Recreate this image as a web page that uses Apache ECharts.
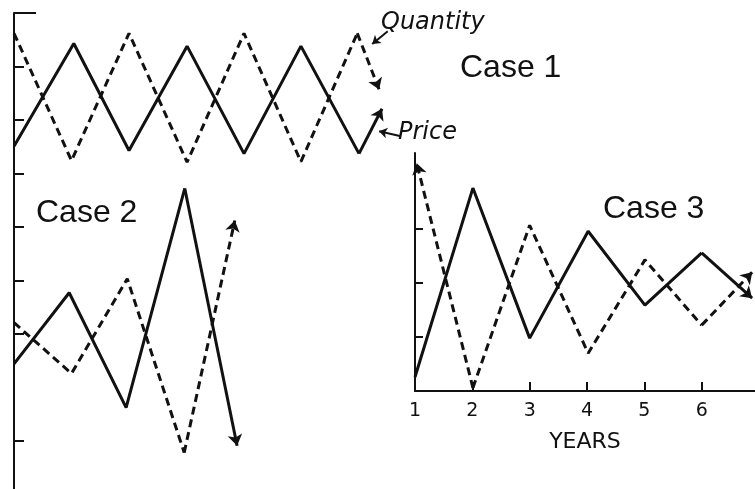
<!DOCTYPE html>
<html>
<head>
<meta charset="utf-8">
<script src="https://cdn.jsdelivr.net/npm/echarts@6/dist/echarts.min.js"></script>
<style>
  html, body { margin: 0; padding: 0; background: #fff; }
  #main { width: 755px; height: 489px; }
</style>
</head>
<body>
<div id="main"></div>
<script>
// Case 1: steady oscillation (years, level on the shared left axis)
const case1PriceYears = [1, 2.04, 3, 4.01, 5, 5.99, 7, 7.4];
const case1Price = [5.51, 7.43, 5.43, 7.38, 5.37, 7.38, 5.37, 6.21];
const case1QtyYears = [1, 2, 3, 4.01, 5, 5.99, 6.97, 7.35];
const case1Qty = [7.62, 5.24, 7.62, 5.21, 7.62, 5.22, 7.62, 6.57];

// Case 2: explosive oscillation
const case2PriceYears = [1, 1.96, 2.95, 3.97, 4.88];
const case2Price = [1.44, 2.77, 0.62, 4.72, -0.09];
const case2QtyYears = [1, 2, 2.97, 3.96, 4.84];
const case2Qty = [2.21, 1.26, 3.03, -0.22, 4.12];

// Case 3: damped oscillation
const case3PriceYears = [1, 2.01, 3, 4.02, 5.01, 6, 6.88];
const case3Price = [0.26, 3.76, 0.98, 2.96, 1.59, 2.56, 1.72];
const case3QtyYears = [1.03, 2.01, 3, 4.02, 5.01, 6, 6.88];
const case3Qty = [4.22, 0.06, 3.07, 0.70, 2.43, 1.22, 2.2];

const yearTicks = [1, 2, 3, 4, 5, 6];
const leftTicks = [0, 2, 3, 4, 5, 6, 7];
const case3Ticks = [1, 2, 3];

// pointer arrows from the labels to the case 1 curves
const qtyPointer = [[7.5, 7.66], [7.23, 7.42]];
const pricePointer = [[7.71, 5.7], [7.35, 5.79]];

const ink = '#111';

function curve(name, xs, ys, grid, dashed, arrowAtStart, extra) {
    const pts = xs.map((x, i) => [x, ys[i]]);
    const n = pts.length;
    const marks = [[{ coord: pts[n - 2] }, { coord: pts[n - 1] }]];
    if (arrowAtStart) {
        marks.push([{ coord: pts[1] }, { coord: pts[0] }]);
    }
    (extra || []).forEach(p => {
        marks.push([{ coord: p[0] }, { coord: p[1], symbolSize: 8 },
        ]);
        marks[marks.length - 1][0].lineStyle = { width: 2, type: 'solid', color: ink };
    });
    const style = { color: ink, width: 3, type: dashed ? [8, 5] : 'solid' };
    return {
        name,
        type: 'line',
        xAxisIndex: grid,
        yAxisIndex: grid === 0 ? 0 : 2,
        data: pts.slice(arrowAtStart ? 1 : 0, n - 1),
        showSymbol: false,
        symbol: 'none',
        lineStyle: style,
        itemStyle: { color: ink },
        silent: true,
        markLine: {
            silent: true,
            animation: false,
            symbol: ['none', 'arrow'],
            symbolSize: 11,
            label: { show: false },
            lineStyle: style,
            data: marks
        }
    };
}

const titleFont = { fontFamily: 'Liberation Sans', fontSize: 32, fontWeight: 'normal', color: ink };
const noteFont = { fontFamily: 'DejaVu Sans', fontSize: 24, fontStyle: 'italic', fontWeight: 'normal', color: ink };

const chart = echarts.init(document.getElementById('main'));
chart.setOption({
    animation: false,
    backgroundColor: '#fff',
    title: [
        { text: 'Quantity', left: 381, top: 11, padding: 0, textStyle: noteFont },
        { text: 'Case 1', left: 460, top: 52, padding: 0, textStyle: titleFont },
        { text: 'Price', left: 398, top: 121, padding: 0, textStyle: noteFont },
        { text: 'Case 2', left: 36, top: 197, padding: 0, textStyle: titleFont },
        { text: 'Case 3', left: 603, top: 193, padding: 0, textStyle: titleFont }
    ],
    grid: [
        { left: 14, top: 13, width: 402.5, bottom: 0 },
        { left: 415, top: 153, right: 0, bottom: 98 }
    ],
    xAxis: [
        { type: 'value', gridIndex: 0, min: 1, max: 8, show: false },
        {
            type: 'value', gridIndex: 1, min: 1, max: 6.93,
            axisLine: { lineStyle: { color: ink, width: 2 } },
            axisTick: { customValues: yearTicks, inside: true, length: 9, lineStyle: { color: ink, width: 2 } },
            axisLabel: { customValues: yearTicks, margin: 11, color: ink, fontFamily: 'DejaVu Sans', fontSize: 19 },
            splitLine: { show: false },
            name: 'YEARS',
            nameLocation: 'middle',
            nameGap: 40,
            nameTextStyle: { color: ink, fontFamily: 'DejaVu Sans', fontSize: 22 }
        }
    ],
    yAxis: [
        {
            type: 'value', gridIndex: 0, min: -0.9, max: 8,
            axisLine: { show: true, lineStyle: { color: ink, width: 2 } },
            axisTick: { customValues: leftTicks, inside: true, length: 10, lineStyle: { color: ink, width: 2 } },
            axisLabel: { show: false },
            splitLine: { show: false }
        },
        {
            type: 'value', gridIndex: 0, min: -0.9, max: 8, position: 'left',
            axisLine: { show: false },
            axisTick: { customValues: [8], inside: true, length: 22, lineStyle: { color: ink, width: 2 } },
            axisLabel: { show: false },
            splitLine: { show: false }
        },
        {
            type: 'value', gridIndex: 1, min: 0, max: 4.41,
            axisLine: { show: true, lineStyle: { color: ink, width: 2 } },
            axisTick: { customValues: case3Ticks, inside: true, length: 8, lineStyle: { color: ink, width: 2 } },
            axisLabel: { show: false },
            splitLine: { show: false }
        }
    ],
    series: [
        curve('Price 1', case1PriceYears, case1Price, 0, false, false, [pricePointer]),
        curve('Quantity 1', case1QtyYears, case1Qty, 0, true, false, [qtyPointer]),
        curve('Price 2', case2PriceYears, case2Price, 0, false, false),
        curve('Quantity 2', case2QtyYears, case2Qty, 0, true, false),
        curve('Price 3', case3PriceYears, case3Price, 1, false, false),
        curve('Quantity 3', case3QtyYears, case3Qty, 1, true, true)
    ]
});
</script>
</body>
</html>
